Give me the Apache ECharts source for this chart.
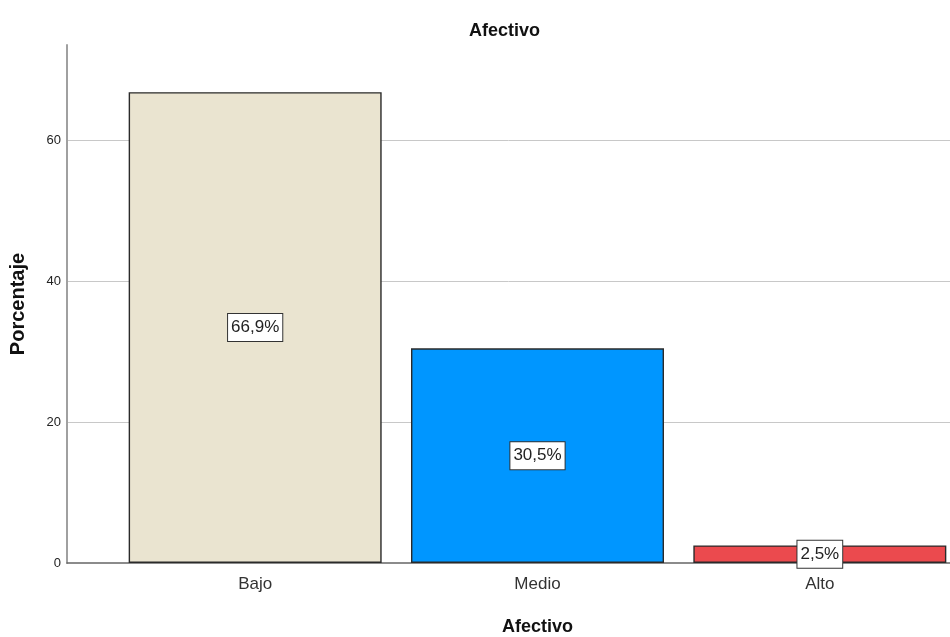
<!DOCTYPE html>
<html>
<head>
<meta charset="utf-8">
<title>Afectivo</title>
<script src="https://cdn.jsdelivr.net/npm/echarts@6/dist/echarts.min.js"></script>
<style>
  html, body { margin: 0; padding: 0; background: #fff; }
  #chart { width: 950px; height: 637px; }
</style>
</head>
<body>
<div id="chart"></div>
<script>
// Categories and their percentages
const categories = ['Bajo', 'Medio', 'Alto'];
const percentages = [66.9, 30.5, 2.5];
const barColors = ['#EAE4D0', '#0096FF', '#EB4A4E'];

// Value axis settings
const yMin = 0;
const yMax = 73.6;
const yInterval = 20;

const FONT = '"Liberation Sans", Arial, sans-serif';

function pct(v) {
  return v.toFixed(1).replace('.', ',') + '%';
}

const barData = percentages.map((v, i) => ({
  value: v,
  itemStyle: { color: barColors[i] }
}));

const chart = echarts.init(document.getElementById('chart'), null, { renderer: 'canvas' });

chart.setOption({
  animation: false,
  backgroundColor: '#ffffff',
  textStyle: { fontFamily: FONT },
  title: {
    text: 'Afectivo',
    left: 464,
    top: 17,
    textStyle: { fontFamily: FONT, fontSize: 18, fontWeight: 'bold', color: '#111' }
  },
  grid: [
    // frame: value axis, gridlines and baseline
    { left: 67, right: 0, top: 45, bottom: 74, containLabel: false, outerBoundsMode: 'none' },
    // category bands for the bars
    { left: 114, right: -11, top: 45, bottom: 74, containLabel: false, outerBoundsMode: 'none' }
  ],
  xAxis: [
    {
      gridIndex: 0,
      type: 'value',
      min: 0,
      max: 1,
      axisLine: { show: true, lineStyle: { color: '#666', width: 1.5 } },
      axisTick: { show: false },
      axisLabel: { show: false },
      splitLine: { show: false }
    },
    {
      gridIndex: 1,
      type: 'category',
      data: categories,
      axisLine: { show: false },
      axisTick: { show: false },
      axisLabel: { margin: 13, fontSize: 17, color: '#333', fontFamily: FONT },
      name: 'Afectivo',
      nameLocation: 'middle',
      nameGap: 55,
      nameTextStyle: { fontFamily: FONT, fontSize: 18, fontWeight: 'bold', color: '#111' }
    }
  ],
  yAxis: [
    {
      gridIndex: 0,
      type: 'value',
      min: yMin,
      max: yMax,
      interval: yInterval,
      axisLine: { show: true, lineStyle: { color: '#a0a0a0', width: 2 } },
      axisTick: { show: false },
      axisLabel: { margin: 6, fontSize: 13, color: '#222', fontFamily: FONT, showMaxLabel: false },
      splitLine: {
        show: true,
        showMinLine: false,
        showMaxLine: false,
        lineStyle: { color: '#c8c8c8', width: 1 }
      },
      name: 'Porcentaje',
      nameLocation: 'middle',
      nameGap: 39,
      nameTextStyle: { fontFamily: FONT, fontSize: 20, fontWeight: 'bold', color: '#111' }
    },
    {
      gridIndex: 1,
      type: 'value',
      min: yMin,
      max: yMax,
      interval: yInterval,
      show: false
    }
  ],
  series: [
    {
      type: 'bar',
      xAxisIndex: 1,
      yAxisIndex: 1,
      data: barData,
      barWidth: 253,
      itemStyle: { borderColor: '#2a2a2a', borderWidth: 1.4 },
      label: {
        show: true,
        position: 'inside',
        formatter: p => pct(p.value),
        fontFamily: FONT,
        fontSize: 17,
        color: '#222',
        backgroundColor: '#ffffff',
        borderColor: '#333',
        borderWidth: 1,
        padding: [6, 3, 4, 3]
      }
    }
  ]
});
</script>
</body>
</html>
